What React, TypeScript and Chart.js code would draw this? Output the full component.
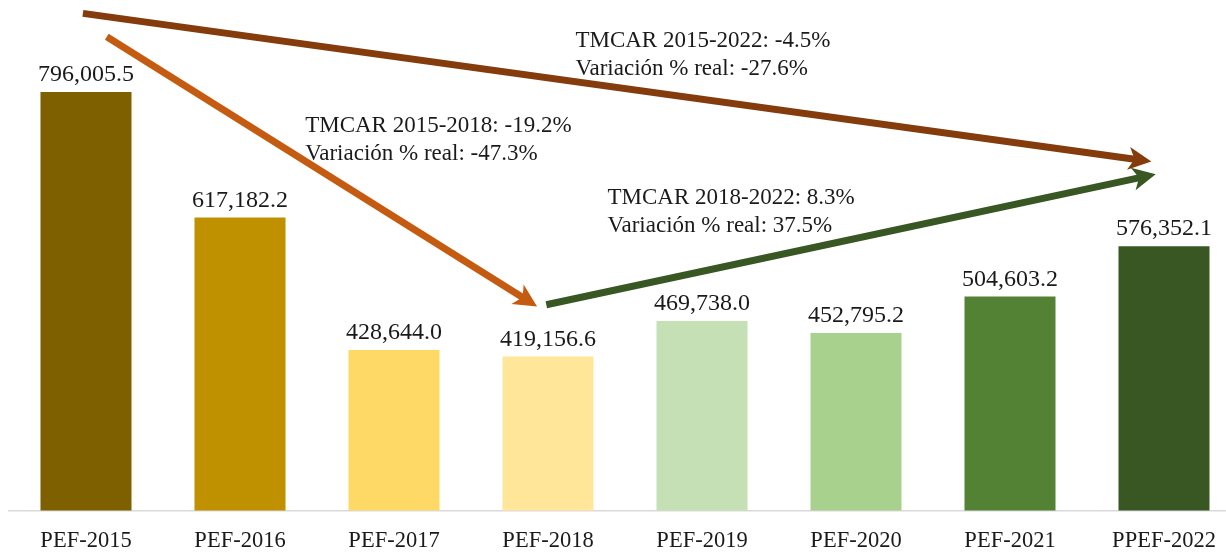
import React, { useEffect, useRef } from "react";
import { Chart, registerables } from "chart.js";

Chart.register(...registerables);

const categories = ["PEF-2015", "PEF-2016", "PEF-2017", "PEF-2018", "PEF-2019", "PEF-2020", "PEF-2021", "PPEF-2022"];
const values = [796005.5, 617182.2, 428644.0, 419156.6, 469738.0, 452795.2, 504603.2, 576352.1];
const barColors = ["#7F6000", "#BF9000", "#FFD966", "#FFE699", "#C5E0B4", "#A9D18E", "#548235", "#385723"];

// arrows: [category index (fractional), value]
const arrowFrom = [[-0.02, 908000], [0.135, 874700], [2.989, 493000]];
const arrowTo = [[6.918, 696900], [2.929, 490600], [6.946, 678900]];
const arrowColors = ["#843C0C", "#C55A11", "#385723"];

const noteLines = [
  ["TMCAR 2015-2022: -4.5%", "Variación % real: -27.6%"],
  ["TMCAR 2015-2018: -19.2%", "Variación % real: -47.3%"],
  ["TMCAR 2018-2022: 8.3%", "Variación % real: 37.5%"],
];
const notePos = [[3.178, 860400], [1.423, 739100], [3.386, 636400]];

const yMin = 200000;
const yMax = 900000;

const FONT = "'Liberation Serif', 'Times New Roman', serif";

function fmt(v: number) {
  return v.toLocaleString("en-US", { minimumFractionDigits: 1, maximumFractionDigits: 1 });
}

const overlayPlugin = {
  id: "overlay",
  afterDatasetsDraw(chart: any) {
    const ctx = chart.ctx;
    const xs = chart.scales.x;
    const ys = chart.scales.y;
    ctx.save();
    // value labels
    const meta = chart.getDatasetMeta(0);
    ctx.font = `24px ${FONT}`;
    ctx.fillStyle = "#1a1a1a";
    ctx.textAlign = "center";
    ctx.textBaseline = "alphabetic";
    meta.data.forEach((el: any, i: number) => {
      ctx.fillText(fmt(values[i]), el.x, el.y - 11);
    });
    // arrows
    arrowFrom.forEach((f, i) => {
      const t = arrowTo[i];
      const x1 = xs.getPixelForValue(f[0]);
      const y1 = ys.getPixelForValue(f[1]);
      const x2 = xs.getPixelForValue(t[0]);
      const y2 = ys.getPixelForValue(t[1]);
      const ang = Math.atan2(y2 - y1, x2 - x1);
      const L = 23;
      const W = 11.5;
      const notch = 15;
      ctx.strokeStyle = arrowColors[i];
      ctx.fillStyle = arrowColors[i];
      ctx.lineWidth = 7;
      ctx.lineCap = "butt";
      ctx.beginPath();
      ctx.moveTo(x1, y1);
      ctx.lineTo(x2 - Math.cos(ang) * notch, y2 - Math.sin(ang) * notch);
      ctx.stroke();
      ctx.save();
      ctx.translate(x2, y2);
      ctx.rotate(ang);
      ctx.beginPath();
      ctx.moveTo(0, 0);
      ctx.lineTo(-L, -W);
      ctx.lineTo(-notch - 2, 0);
      ctx.lineTo(-L, W);
      ctx.closePath();
      ctx.fill();
      ctx.restore();
    });
    // notes
    ctx.font = `23px ${FONT}`;
    ctx.fillStyle = "#1a1a1a";
    ctx.textAlign = "left";
    ctx.textBaseline = "alphabetic";
    noteLines.forEach((lines, i) => {
      const x = xs.getPixelForValue(notePos[i][0]);
      const y = ys.getPixelForValue(notePos[i][1]);
      lines.forEach((ln, j) => ctx.fillText(ln, x, y + j * 28));
    });
    ctx.restore();
  },
};

export default function App() {
  const ref = useRef<HTMLCanvasElement | null>(null);
  useEffect(() => {
    if (!ref.current) return;
    const chart = new Chart(ref.current, {
      type: "bar",
      data: {
        labels: categories,
        datasets: [
          {
            data: values,
            backgroundColor: barColors,
            borderWidth: 0,
            categoryPercentage: 1,
            barPercentage: 0.591,
          },
        ],
      },
      options: {
        responsive: false,
        animation: false,
        devicePixelRatio: 1,
        layout: { padding: { top: 19, left: 9, right: 0, bottom: 0 } },
        plugins: { legend: { display: false }, tooltip: { enabled: false } },
        scales: {
          x: {
            grid: { display: false, drawTicks: false },
            border: { display: true, color: "#d9d9d9", width: 1.5 },
            ticks: { color: "#1a1a1a", font: { family: FONT, size: 22.5 }, padding: 16.8, maxRotation: 0, autoSkip: false },
          },
          y: { display: false, min: yMin, max: yMax },
        },
      },
      plugins: [overlayPlugin],
    });
    return () => chart.destroy();
  }, []);
  return (
    <div style={{ position: "fixed", left: 0, top: 0, width: 1226, height: 554, overflow: "hidden", background: "#fff" }}>
      <canvas ref={ref} width={1241} height={571} style={{ width: 1241, height: 571, display: "block" }} />
    </div>
  );
}
